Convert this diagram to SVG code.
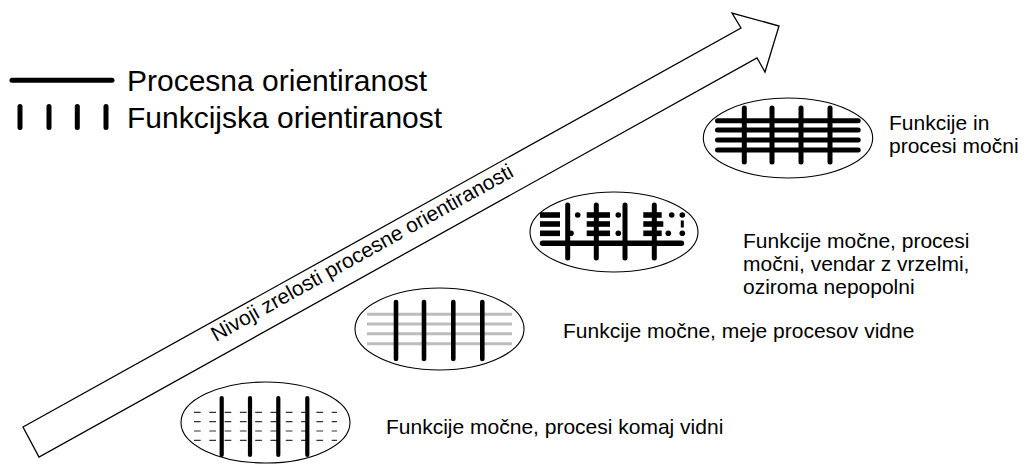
<svg xmlns="http://www.w3.org/2000/svg" width="1026" height="464" viewBox="0 0 1026 464">
  <style>
    .txt { font-family: "Liberation Sans", Arial, sans-serif; fill: #000; }
    .label { font-size: 21px; }
    .legend-txt { font-size: 30px; }
    .oval { fill: #fff; stroke: #000; stroke-width: 1.1; }
    .func { stroke: #000; stroke-linecap: round; fill: none; }
    .proc { stroke: #000; stroke-linecap: round; fill: none; }
    .faint { stroke: #bdbdbd; stroke-width: 3; fill: none; }
    .dashed { stroke: #333; stroke-width: 1.2; stroke-dasharray: 6.7 8.6; fill: none; }
    .seg { stroke: #000; stroke-width: 5.6; fill: none; }
    .dot { fill: #000; }
  </style>

  <rect width="1026" height="464" fill="#fff"/>

  <!-- legend -->
  <g id="legend">
    <line class="proc" x1="12" y1="80.3" x2="112" y2="80.3" stroke-width="5"/>
    <g class="func" stroke-width="5">
      <line x1="20" y1="106.5" x2="20" y2="127.5"/>
      <line x1="49" y1="106.5" x2="49" y2="127.5"/>
      <line x1="77.3" y1="106.5" x2="77.3" y2="127.5"/>
      <line x1="106" y1="106.5" x2="106" y2="127.5"/>
    </g>
    <text class="txt legend-txt" x="127" y="90.7">Procesna orientiranost</text>
    <text class="txt legend-txt" x="127" y="127.7">Funkcijska orientiranost</text>
  </g>

  <!-- maturity arrow -->
  <g id="connectors">
    <path id="maturity-arrow" d="M23,427 L741,28 L732,13 L779,26 L765,72 L757,58 L39,457 Z"
          fill="#fff" stroke="#000" stroke-width="1.3" stroke-linejoin="miter"/>
    <text class="txt label" transform="translate(216,342) rotate(-29.07)">Nivoji zrelosti procesne orientiranosti</text>
  </g>

  <!-- level 1: functions strong, processes barely visible -->
  <g id="level1">
    <ellipse class="oval" cx="265.5" cy="422.5" rx="84.5" ry="40.5"/>
    <g class="dashed">
      <line x1="194" y1="412.3" x2="337" y2="412.3"/>
      <line x1="194" y1="421.7" x2="337" y2="421.7"/>
      <line x1="194" y1="431" x2="337" y2="431"/>
      <line x1="194" y1="440.3" x2="337" y2="440.3"/>
    </g>
    <g class="func" stroke-width="4.2">
      <line x1="221.7" y1="398" x2="221.7" y2="455"/>
      <line x1="250" y1="398" x2="250" y2="455"/>
      <line x1="278.3" y1="398" x2="278.3" y2="455"/>
      <line x1="307.3" y1="398" x2="307.3" y2="455"/>
    </g>
    <text class="txt label" x="386" y="434">Funkcije močne, procesi komaj vidni</text>
  </g>

  <!-- level 2: functions strong, process boundaries visible -->
  <g id="level2">
    <ellipse class="oval" cx="439.5" cy="329" rx="84.5" ry="41"/>
    <g class="faint">
      <line x1="367" y1="314.3" x2="512" y2="314.3"/>
      <line x1="367" y1="324" x2="512" y2="324"/>
      <line x1="367" y1="333.7" x2="512" y2="333.7"/>
      <line x1="367" y1="343.7" x2="512" y2="343.7"/>
    </g>
    <g class="func" stroke-width="4.6">
      <line x1="396" y1="302" x2="396" y2="359"/>
      <line x1="424" y1="302" x2="424" y2="359"/>
      <line x1="453.3" y1="302" x2="453.3" y2="359"/>
      <line x1="482.3" y1="302" x2="482.3" y2="359"/>
    </g>
    <text class="txt label" x="563" y="338.3">Funkcije močne, meje procesov vidne</text>
  </g>

  <!-- level 3: strong processes with gaps -->
  <g id="level3">
    <ellipse class="oval" cx="614" cy="232" rx="84" ry="40"/>
    <g class="seg">
      <line x1="540" y1="215" x2="560" y2="215"/>
      <line x1="586.7" y1="215" x2="610" y2="215"/>
      <line x1="643.3" y1="215" x2="661.7" y2="215"/>
      <line x1="540" y1="224" x2="560" y2="224"/>
      <line x1="586.7" y1="224" x2="610" y2="224"/>
      <line x1="643.3" y1="224" x2="663.3" y2="224"/>
      <line x1="540" y1="233.3" x2="560" y2="233.3"/>
      <line x1="586.7" y1="233.3" x2="610" y2="233.3"/>
      <line x1="643.3" y1="233.3" x2="661.7" y2="233.3"/>
    </g>
    <g class="dot">
      <circle cx="577.7" cy="215" r="2.8"/>
      <circle cx="618.3" cy="215" r="2.8"/>
      <circle cx="671.7" cy="215" r="2.8"/>
      <circle cx="682.3" cy="215" r="2.8"/>
      <rect x="680.8" y="220.5" width="3" height="7"/>
      <circle cx="571" cy="233.3" r="2.8"/>
      <circle cx="618.3" cy="233.3" r="2.8"/>
      <circle cx="668.3" cy="233.3" r="2.8"/>
      <circle cx="682.3" cy="233.3" r="2.8"/>
    </g>
    <line class="proc" x1="542.5" y1="243.3" x2="681.5" y2="243.3" stroke-width="5.4"/>
    <g class="func" stroke-width="5">
      <line x1="567.7" y1="205" x2="567.7" y2="258"/>
      <line x1="596.3" y1="205" x2="596.3" y2="258"/>
      <line x1="625" y1="205" x2="625" y2="258"/>
      <line x1="654.3" y1="205" x2="654.3" y2="258"/>
    </g>
    <text class="txt label" x="743" y="248">Funkcije močne, procesi</text>
    <text class="txt label" x="743" y="271">močni, vendar z vrzelmi,</text>
    <text class="txt label" x="743" y="294">oziroma nepopolni</text>
  </g>

  <!-- level 4: functions and processes strong -->
  <g id="level4">
    <ellipse class="oval" cx="788" cy="138" rx="84.7" ry="40"/>
    <g class="proc" stroke-width="5">
      <line x1="717.5" y1="120.7" x2="858.2" y2="120.7"/>
      <line x1="717.5" y1="130" x2="858.2" y2="130"/>
      <line x1="717.5" y1="140" x2="858.2" y2="140"/>
      <line x1="717.5" y1="150" x2="858.2" y2="150"/>
    </g>
    <g class="func" stroke-width="5">
      <line x1="744.3" y1="108" x2="744.3" y2="162"/>
      <line x1="772" y1="108" x2="772" y2="162"/>
      <line x1="801" y1="108" x2="801" y2="162"/>
      <line x1="830" y1="108" x2="830" y2="162"/>
    </g>
    <text class="txt label" x="889" y="130">Funkcije in</text>
    <text class="txt label" x="889" y="153">procesi močni</text>
  </g>
</svg>
